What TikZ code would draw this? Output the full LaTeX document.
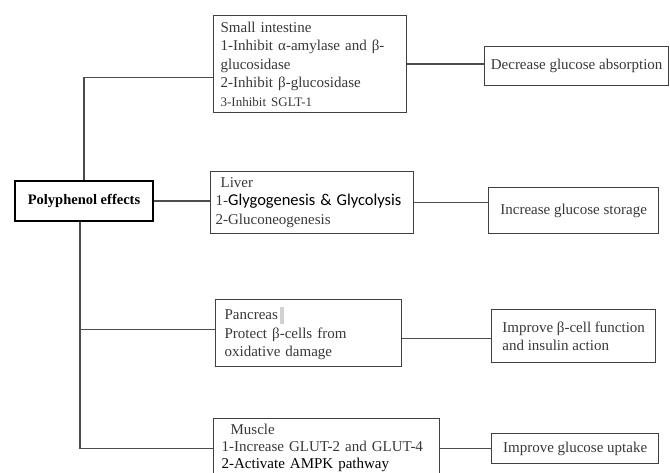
\documentclass[tikz,border=0pt]{standalone}
\usepackage{fontspec}
\setmainfont{Liberation Serif}
\newfontfamily\calibrifont{Carlito}
\usepackage{tikz}
\tikzset{font=\fontsize{15}{18.5}\selectfont}
\usetikzlibrary{positioning}

\begin{document}
\begin{tikzpicture}[x=1pt, y=-1pt]
		\tikzstyle{organ} = [rectangle, draw=black!75, line width=1.3pt, align=left, anchor=north west, inner ysep=0pt, text=black!78];
		\tikzstyle{outcome} = [rectangle, draw=black!75, line width=1.3pt, align=left, anchor=north west, inner ysep=0pt, text=black!78];
		\tikzstyle{link} = [draw=black!70, line width=1.3pt];
		\useasboundingbox (0,0) rectangle (670,473);
		\clip (0,0) rectangle (670,473);
		
		\node[rectangle, draw=black, line width=1.3pt, minimum width=138, minimum height=40, font=\fontsize{14.5}{17}\selectfont\bfseries](polyphenol) at (84,201){Polyphenol effects};
		
		\node[organ, minimum width=193, minimum height=97, inner xsep=7pt, text width=179](intestine) at (213,15){Small intestine\\1-Inhibit α-amylase and β-\\glucosidase\\2-Inhibit β-glucosidase\\{\fontsize{13}{15}\selectfont 3-Inhibit SGLT-1}};
		\node[organ, minimum width=203, minimum height=62, inner xsep=5pt, text width=193](liver) at (210,171){\hspace{5pt}Liver\\1-{\color{black}\calibrifont\fontsize{16.5}{18.5}\selectfont Glygogenesis \& Glycolysis}\\2-Gluconeogenesis};
		\node[organ, minimum width=186, minimum height=67, inner xsep=9pt, text width=168](pancreas) at (215,299){Pancreas\,{\color{black!18}\rule[-4pt]{4pt}{17pt}}\\Protect β-cells from\\oxidative damage};
		\node[organ, minimum width=226, minimum height=58, inner xsep=8pt, text width=210, font=\fontsize{15}{17.2}\selectfont](muscle) at (213,418){\hspace{9pt}Muscle\\1-Increase GLUT-2 and GLUT-4\\{\color{black}2-Activate AMPK pathway}};
		
		\node[outcome, minimum width=184, minimum height=39](decrease) at (484,46){Decrease glucose absorption};
		\node[outcome, minimum width=170, minimum height=46](increase) at (488,187){Increase glucose storage};
		\node[outcome, minimum width=164, minimum height=53](improve) at (491,309){Improve β-cell function\\and insulin action};
		\node[outcome, minimum width=167, minimum height=30](uptake) at (491,433){Improve glucose uptake};
		
		% tree from the effects box
		\draw[link] (polyphenol.north) |- ([yshift=-13.5pt]intestine.west);
		\draw[link] (polyphenol) -- (polyphenol -| liver.west);
		\draw[link] ([xshift=-4pt]polyphenol.south) |- ([yshift=3.5pt]pancreas.west);
		\draw[link] ([xshift=-4pt]polyphenol.south) |- ([yshift=-1pt]muscle.west);
		
		% organ to outcome
		\draw[link] (intestine.east) -- (intestine.east -| decrease.west);
		\draw[link] (liver.east) -- (liver.east -| increase.west);
		\draw[link] ([yshift=-5.5pt]pancreas.east) -- ([yshift=-5.5pt]pancreas.east -| improve.west);
		\draw[link] ([yshift=-1pt]muscle.east) -- ([yshift=-1pt]muscle.east -| uptake.west);
		\end{tikzpicture}
\end{document}
